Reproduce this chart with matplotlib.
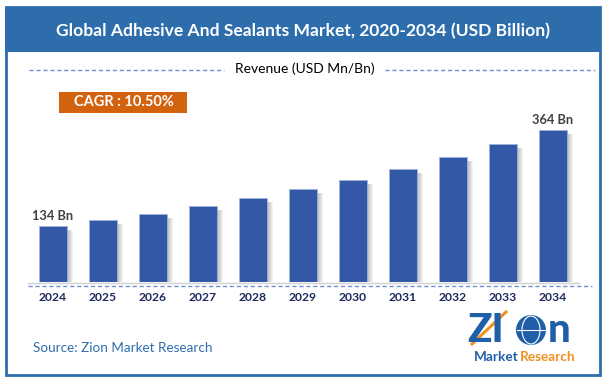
"""Recreate the Zion adhesive and sealants market bar chart."""

import matplotlib

matplotlib.use("Agg")
import matplotlib.pyplot as plt
from matplotlib.patches import Rectangle, Ellipse
from matplotlib.lines import Line2D

plt.rcParams["font.family"] = ["Lato", "DejaVu Sans"]

# data
years = ["2024", "2025", "2026", "2027", "2028", "2029", "2030", "2031", "2032", "2033", "2034"]
revenue = [134, 148, 164, 182, 201, 222, 244, 270, 299, 331, 364]
labelled = {0: "134 Bn", 10: "364 Bn"}

title = "Global Adhesive And Sealants Market, 2020-2034 (USD Billion)"
subtitle = "Revenue (USD Mn/Bn)"
cagr_text = "CAGR : 10.50%"
source_text = "Source: Zion Market Research"

W, H = 607, 383
BLUE_FRAME = "#2E6DAB"
BAR_BLUE = "#3358A6"
DASH_BLUE = "#6F8FD0"
LOGO_BLUE = "#1F5FA8"
LOGO_ORANGE = "#F0901E"


def fx(x):
    return x / W


def fy(y):
    return 1.0 - y / H


fig = plt.figure(figsize=(W / 100, H / 100), dpi=100)

# frame and title band
fig.add_artist(Rectangle((fx(5), fy(52)), fx(596), 45 / H, transform=fig.transFigure,
                         facecolor=BLUE_FRAME, edgecolor="none", zorder=1))
fig.add_artist(Rectangle((fx(6), fy(375)), fx(594), 368 / H, transform=fig.transFigure,
                         facecolor="none", edgecolor=BLUE_FRAME, linewidth=2.0, zorder=2))
fig.text(fx(303), fy(31), title, color="white", fontsize=12.6, fontweight="bold",
         ha="center", va="center", zorder=3)

# subtitle with dashed rules
fig.add_artist(Line2D([fx(29), fx(224)], [fy(69.5), fy(69.5)], transform=fig.transFigure,
                      color=DASH_BLUE, linewidth=1.0, linestyle=(0, (3, 2))))
fig.add_artist(Line2D([fx(385), fx(595)], [fy(69.5), fy(69.5)], transform=fig.transFigure,
                      color=DASH_BLUE, linewidth=1.0, linestyle=(0, (3, 2))))
fig.text(fx(305), fy(69), subtitle, color="black", fontsize=10, ha="center", va="center")

# CAGR badge
fig.add_artist(Rectangle((fx(59), fy(113)), 128 / W, 21 / H, transform=fig.transFigure,
                         facecolor="#D2620E", edgecolor="none"))
fig.text(fx(124), fy(102.5), cagr_text, color="white", fontsize=10.5, fontweight="bold",
         ha="center", va="center")

# bars
ax_left, ax_right, ax_top, ax_bottom = 24, 580, 120, 282.3
ax = fig.add_axes([fx(ax_left), fy(ax_bottom), (ax_right - ax_left) / W, (ax_bottom - ax_top) / H])
positions = list(range(len(years)))
px_per_unit = 50.0
data_per_px = 388.0 / (ax_bottom - ax_top)
for k in range(1, 7):
    shift = k / px_per_unit
    ax.bar([p + shift for p in positions], [v - 4 * data_per_px for v in revenue],
           width=0.56, color="#505050", alpha=0.07, linewidth=0, zorder=1)
ax.bar(positions, revenue, width=0.56, color=BAR_BLUE, edgecolor="#9DB3DF",
       linewidth=0.6, zorder=3)
for idx, text in labelled.items():
    ax.text(positions[idx], revenue[idx] + 10, text, ha="center", va="bottom",
            fontsize=9.3, fontweight="bold", color="#404040")
ax.set_xlim(-0.58, 10.54)
ax.set_ylim(0, 388)
ax.axis("off")
fig.add_artist(Line2D([fx(28), fx(579)], [fy(282.5), fy(282.5)], transform=fig.transFigure,
                      color="#D0D0D0", linewidth=1.0))
fig.add_artist(Line2D([fx(28), fx(592)], [fy(286), fy(286)], transform=fig.transFigure,
                      color=DASH_BLUE, linewidth=1.0, linestyle=(0, (3, 2))))
for p, year in zip(positions, years):
    fig.text(fx(53 + px_per_unit * p), fy(297.5), year, ha="center", va="center",
             fontsize=8.7, fontweight="bold", color="#1F2A5E")

# source and logo
fig.text(fx(33), fy(348), source_text, ha="left", va="center", fontsize=9.7, color="#2E6DAB")
fig.text(fx(467), fy(331), "ZI", ha="left", va="center", fontsize=29, fontweight="black",
         color=LOGO_BLUE)
fig.add_artist(Ellipse((fx(531), fy(330)), 30 / W, 30 / H, transform=fig.transFigure,
                       facecolor=LOGO_BLUE, edgecolor="none"))
fig.add_artist(Ellipse((fx(531), fy(330)), 18 / W, 28 / H, transform=fig.transFigure,
                       facecolor="none", edgecolor="white", linewidth=0.8))
fig.add_artist(Line2D([fx(517), fx(545)], [fy(330), fy(330)], transform=fig.transFigure,
                      color="white", linewidth=0.8))
fig.text(fx(548), fy(331), "n", ha="left", va="center", fontsize=29, fontweight="black",
         color=LOGO_BLUE)
fig.add_artist(Line2D([fx(472), fx(506)], [fy(344), fy(312)], transform=fig.transFigure,
                      color=LOGO_ORANGE, linewidth=2.2))
fig.text(fx(519), fy(357), "Market", ha="right", va="center", fontsize=9.8, fontweight="bold",
         color=LOGO_BLUE)
fig.text(fx(520), fy(357), "Research", ha="left", va="center", fontsize=9.8, fontweight="bold",
         color=LOGO_ORANGE)

fig.savefig("out.png", dpi=100)
